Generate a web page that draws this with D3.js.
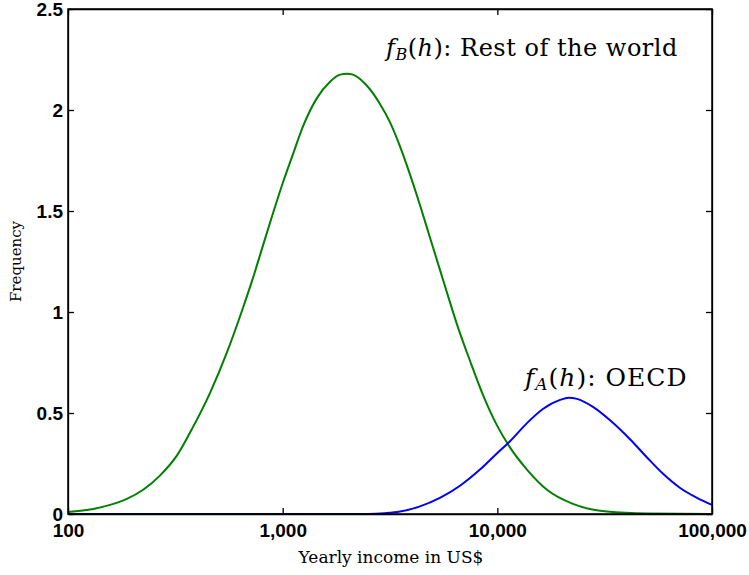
<!DOCTYPE html>
<html>
<head>
<meta charset="utf-8">
<script src="https://cdn.jsdelivr.net/npm/d3@7"></script>
<style>
  body { margin: 0; background: #fff; }
  .tick text { font-family: "Liberation Sans", Arial, sans-serif; font-weight: bold; font-size: 19px; fill: #000; }
  .axis path, .axis line { stroke: #000; stroke-width: 1.3; }
  .lbl { font-family: "DejaVu Serif", "Liberation Serif", serif; fill: #000; }
</style>
</head>
<body>
<svg id="chart" width="749" height="575"></svg>
<script>
// values
const greenIncome = [100, 131, 157, 188, 224, 268, 322, 382, 459, 550, 653, 728, 810, 902, 1002,
  1116, 1245, 1446, 1662, 1850, 2000, 2125, 2470, 2840, 3160, 3520, 3920, 4360, 4850, 5400,
  5890, 6480, 7450, 8570, 9950, 11450, 13740, 17030, 22500, 32400, 50000, 100000];
const greenFreq = [0.01, 0.025, 0.045, 0.075, 0.12, 0.19, 0.29, 0.43, 0.60, 0.80, 1.02, 1.17, 1.33, 1.49, 1.64,
  1.78, 1.92, 2.06, 2.14, 2.175, 2.18, 2.175, 2.12, 2.03, 1.94, 1.82, 1.68, 1.53, 1.37, 1.21,
  1.08, 0.94, 0.76, 0.59, 0.44, 0.33, 0.22, 0.12, 0.05, 0.012, 0.002, 0];

const blueIncome = [100, 2500, 3000, 3520, 4360, 5400, 6700, 8300, 9950, 11450, 13740, 16300,
  19600, 21500, 23500, 27900, 33400, 41500, 49800, 59000, 70800, 85100, 100000];
const blueFreq = [0, 0, 0.004, 0.012, 0.038, 0.08, 0.14, 0.22, 0.30, 0.36, 0.45, 0.52,
  0.565, 0.575, 0.57, 0.53, 0.465, 0.37, 0.28, 0.20, 0.13, 0.08, 0.045];

const xTicks = [100, 1000, 10000, 100000];
const yTicks = [0, 0.5, 1, 1.5, 2, 2.5];

const margin = {top: 9, right: 37, bottom: 61, left: 68},
      width = 749, height = 575;

const svg = d3.select("#chart");

const x = d3.scaleLog()
    .domain([100, 100000])
    .range([margin.left, width - margin.right]);
const y = d3.scaleLinear()
    .domain([0, 2.5])
    .range([height - margin.bottom, margin.top]);

const x0 = x.range()[0], x1 = x.range()[1],
      y0 = y.range()[0], y1 = y.range()[1];

// curves
const line = d3.line()
    .x(d => x(d[0]))
    .y(d => y(d[1]))
    .curve(d3.curveMonotoneX);

svg.append("path")
    .datum(greenIncome.map((v, i) => [v, greenFreq[i]]))
    .attr("fill", "none")
    .attr("stroke", "#008000")
    .attr("stroke-width", 2)
    .attr("d", line);

svg.append("path")
    .datum(blueIncome.map((v, i) => [v, blueFreq[i]]))
    .attr("fill", "none")
    .attr("stroke", "#0000ff")
    .attr("stroke-width", 2)
    .attr("d", line);

// axes, ticks pointing inward on all four sides
svg.append("g").attr("class", "axis")
    .attr("transform", `translate(0,${y0})`)
    .call(d3.axisBottom(x).tickValues(xTicks).tickFormat(d3.format(","))
      .tickSizeInner(-6).tickSizeOuter(0).tickPadding(10));
svg.append("g").attr("class", "axis")
    .attr("transform", `translate(0,${y1})`)
    .call(d3.axisTop(x).tickValues(xTicks).tickFormat("")
      .tickSizeInner(-6).tickSizeOuter(0));
svg.append("g").attr("class", "axis")
    .attr("transform", `translate(${x0},0)`)
    .call(d3.axisLeft(y).tickValues(yTicks).tickFormat(d3.format("~g"))
      .tickSizeInner(-6).tickSizeOuter(0).tickPadding(5));
svg.append("g").attr("class", "axis")
    .attr("transform", `translate(${x1},0)`)
    .call(d3.axisRight(y).tickValues(yTicks).tickFormat("")
      .tickSizeInner(-6).tickSizeOuter(0));

// frame
svg.append("rect")
    .attr("x", x0).attr("y", y1)
    .attr("width", x1 - x0).attr("height", y0 - y1)
    .attr("fill", "none")
    .attr("stroke", "#000")
    .attr("stroke-width", 1.5);

// axis titles
svg.append("text").attr("class", "lbl")
    .attr("x", 391).attr("y", 563)
    .attr("text-anchor", "middle")
    .style("font-size", "17px")
    .text("Yearly income in US$");

svg.append("text").attr("class", "lbl")
    .attr("transform", `translate(21,${(y0 + y1) / 2}) rotate(-90)`)
    .attr("text-anchor", "middle")
    .style("font-size", "15px")
    .text("Frequency");

// curve labels
function curveLabel(px, py, sub, rest, size, spacing) {
  const t = svg.append("text").attr("class", "lbl")
      .attr("x", px).attr("y", py)
      .style("font-size", size + "px")
      .style("letter-spacing", spacing + "px");
  t.append("tspan").style("font-style", "italic").text("f");
  t.append("tspan").style("font-style", "italic").style("font-size", Math.round(size * 0.68) + "px")
      .attr("dy", 4).text(sub);
  t.append("tspan").attr("dy", -4).text("(");
  t.append("tspan").style("font-style", "italic").text("h");
  t.append("tspan").text("): " + rest);
}
curveLabel(386, 56, "B", "Rest of the world", 24, 0.5);
curveLabel(525, 386, "A", "OECD", 25, 1);
</script>
</body>
</html>
